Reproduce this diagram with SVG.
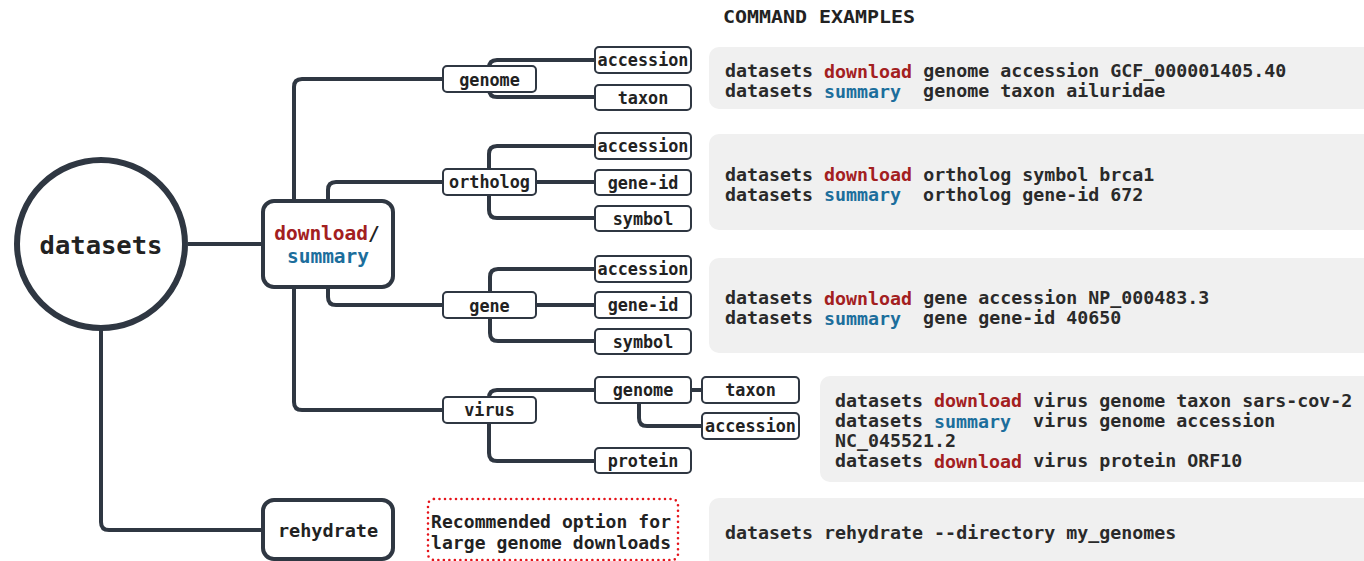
<svg xmlns="http://www.w3.org/2000/svg" width="1364" height="561" viewBox="0 0 1364 561">
<style>
.ln{fill:none;stroke:#2f3742;stroke-width:4;stroke-linecap:butt}
.leaf{fill:#fff;stroke:#2f3742;stroke-width:2}
.big{fill:#fff;stroke:#2f3742;stroke-width:4}
.t{font-family:"DejaVu Sans Mono","Liberation Mono",monospace;font-weight:bold;fill:#222;dominant-baseline:central;text-anchor:middle}
.nt{font-size:16.8px}
.cmd{font-family:"DejaVu Sans Mono","Liberation Mono",monospace;font-weight:bold;font-size:18.3px;fill:#2a2a2a;dominant-baseline:central;white-space:pre}
.dl{fill:#a3201f}
.sm{fill:#1c6e9c}
.gb{fill:#f0f0f0}
</style>
<g id="cmdboxes">
<rect class="gb" x="709" y="47" width="665" height="62" rx="10"/>
<rect class="gb" x="709" y="134" width="665" height="96" rx="10"/>
<rect class="gb" x="709" y="258" width="665" height="95" rx="10"/>
<rect class="gb" x="820" y="376" width="554" height="106" rx="10"/>
<rect class="gb" x="709" y="498" width="665" height="70" rx="10"/>
</g>
<g id="connectors">
<path class="ln" d="M188 244 H263"/>
<path class="ln" d="M443 79 H302 Q294 79 294 87 V402 Q294 410 302 410 H443"/>
<path class="ln" d="M328 200 V190 Q328 182 336 182 H442"/>
<path class="ln" d="M328 287 V297 Q328 305 336 305 H442"/>
<path class="ln" d="M595 60 H497 Q489 60 489 68 V89 Q489 97 497 97 H595"/>
<path class="ln" d="M595 146 H497 Q489 146 489 154 V210 Q489 218 497 218 H595"/>
<path class="ln" d="M536 182 H595"/>
<path class="ln" d="M595 269 H498 Q490 269 490 277 V333 Q490 341 498 341 H595"/>
<path class="ln" d="M536 305 H595"/>
<path class="ln" d="M595 390 H497 Q489 390 489 398 V453 Q489 461 497 461 H595"/>
<path class="ln" d="M692 390 H702"/>
<path class="ln" d="M639 403 V418 Q639 426 647 426 H702"/>
<path class="ln" d="M101 330 V522 Q101 530 109 530 H263"/>
</g>
<g id="n-datasets">
<circle cx="101" cy="244" r="84" fill="#fff" stroke="#2f3742" stroke-width="6"/>
<text class="t" x="101" y="245" style="font-size:25.5px">datasets</text>
</g>
<g id="n-downloadsummary">
<rect class="big" x="263" y="201" width="130" height="86" rx="11"/>
<text class="t" x="327" y="233" style="font-size:19.5px"><tspan class="dl">download</tspan>/</text>
<text class="t sm" x="328" y="256" style="font-size:19.5px">summary</text>
</g>
<g id="n-genome">
<rect class="leaf" x="443" y="66" width="93" height="26" rx="4"/>
<text class="t nt" x="489.5" y="80">genome</text>
</g>
<g id="n-genome-accession">
<rect class="leaf" x="595" y="47" width="96" height="26" rx="4"/>
<text class="t nt" x="643" y="60">accession</text>
</g>
<g id="n-genome-taxon">
<rect class="leaf" x="595" y="85" width="96" height="25" rx="4"/>
<text class="t nt" x="643" y="98">taxon</text>
</g>
<g id="n-ortholog">
<rect class="leaf" x="443" y="169" width="93" height="26" rx="4"/>
<text class="t nt" x="489.5" y="182">ortholog</text>
</g>
<g id="n-ortholog-accession">
<rect class="leaf" x="595" y="133" width="96" height="26" rx="4"/>
<text class="t nt" x="643" y="146">accession</text>
</g>
<g id="n-ortholog-geneid">
<rect class="leaf" x="595" y="170" width="96" height="25" rx="4"/>
<text class="t nt" x="643" y="182.5">gene-id</text>
</g>
<g id="n-ortholog-symbol">
<rect class="leaf" x="595" y="206" width="96" height="25" rx="4"/>
<text class="t nt" x="643" y="219">symbol</text>
</g>
<g id="n-gene">
<rect class="leaf" x="443" y="292" width="93" height="26" rx="4"/>
<text class="t nt" x="489.5" y="306">gene</text>
</g>
<g id="n-gene-accession">
<rect class="leaf" x="595" y="256" width="96" height="26" rx="4"/>
<text class="t nt" x="643" y="269">accession</text>
</g>
<g id="n-gene-geneid">
<rect class="leaf" x="595" y="292" width="96" height="26" rx="4"/>
<text class="t nt" x="643" y="305">gene-id</text>
</g>
<g id="n-gene-symbol">
<rect class="leaf" x="595" y="329" width="96" height="25" rx="4"/>
<text class="t nt" x="643" y="342">symbol</text>
</g>
<g id="n-virus">
<rect class="leaf" x="443" y="397" width="93" height="26" rx="4"/>
<text class="t nt" x="489.5" y="410">virus</text>
</g>
<g id="n-virus-genome">
<rect class="leaf" x="595" y="377" width="96" height="26" rx="4"/>
<text class="t nt" x="643" y="390">genome</text>
</g>
<g id="n-virus-taxon">
<rect class="leaf" x="702" y="377" width="97" height="26" rx="4"/>
<text class="t nt" x="750.5" y="390">taxon</text>
</g>
<g id="n-virus-accession">
<rect class="leaf" x="702" y="413" width="97" height="26" rx="4"/>
<text class="t nt" x="750.5" y="426">accession</text>
</g>
<g id="n-virus-protein">
<rect class="leaf" x="595" y="448" width="96" height="25" rx="4"/>
<text class="t nt" x="643" y="461">protein</text>
</g>
<g id="n-rehydrate">
<rect class="big" x="263" y="500" width="130" height="59" rx="11"/>
<text class="t" x="328" y="530" style="font-size:18.5px">rehydrate</text>
</g>
<g id="note">
<rect x="428" y="499" width="250" height="61" rx="6" fill="none" stroke="#e5141b" stroke-width="2.6" stroke-dasharray="0 5.5" stroke-linecap="round"/>
<text class="t" x="431" y="521" style="font-size:18px;text-anchor:start" textLength="240">Recommended option for</text>
<text class="t" x="431" y="542" style="font-size:18px;text-anchor:start" textLength="240">large genome downloads</text>
</g>
<g id="commands">
<text class="t" x="723" y="17" style="font-size:17px;text-anchor:start" textLength="192" lengthAdjust="spacingAndGlyphs">COMMAND EXAMPLES</text>
<text class="cmd" x="725" y="70.5">datasets <tspan class="dl">download</tspan> genome accession GCF_000001405.40</text>
<text class="cmd" x="725" y="90.5">datasets <tspan class="sm">summary</tspan>  genome taxon ailuridae</text>
<text class="cmd" x="725" y="174">datasets <tspan class="dl">download</tspan> ortholog symbol brca1</text>
<text class="cmd" x="725" y="194">datasets <tspan class="sm">summary</tspan>  ortholog gene-id 672</text>
<text class="cmd" x="725" y="297.5">datasets <tspan class="dl">download</tspan> gene accession NP_000483.3</text>
<text class="cmd" x="725" y="317.5">datasets <tspan class="sm">summary</tspan>  gene gene-id 40650</text>
<text class="cmd" x="835" y="400">datasets <tspan class="dl">download</tspan> virus genome taxon sars-cov-2</text>
<text class="cmd" x="835" y="420.5">datasets <tspan class="sm">summary</tspan>  virus genome accession</text>
<text class="cmd" x="835" y="440.5">NC_045521.2</text>
<text class="cmd" x="835" y="460.5">datasets <tspan class="dl">download</tspan> virus protein ORF10</text>
<text class="cmd" x="725" y="532.5">datasets rehydrate --directory my_genomes</text>
</g>
</svg>
